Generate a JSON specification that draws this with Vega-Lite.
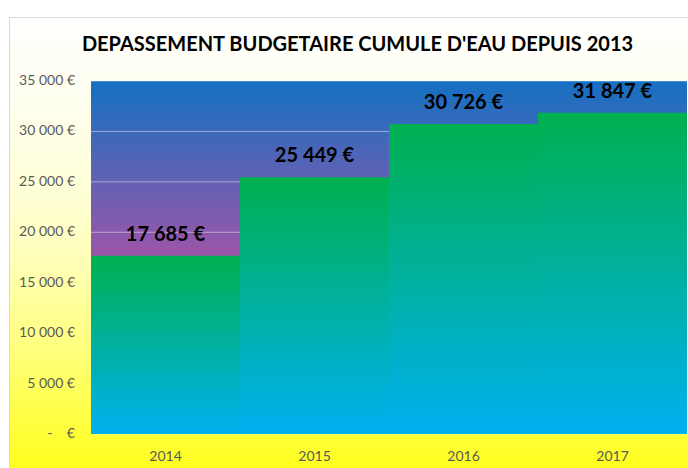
{
  "$schema": "https://vega.github.io/schema/vega-lite/v6.json",
  "width": 679,
  "height": 451,
  "autosize": {"type": "none"},
  "padding": {"left": 9, "top": 17, "right": 0, "bottom": 0},
  "background": "#FFFFFF",
  "title": {
    "text": "DEPASSEMENT BUDGETAIRE CUMULE D'EAU DEPUIS 2013",
    "font": "Lato",
    "fontSize": 20,
    "fontWeight": "bold",
    "color": "#000000",
    "anchor": "middle",
    "baseline": "alphabetic",
    "offset": -54,
    "dx": 9
  },
  "datasets": {
    "bars": [
      {"year": "2014", "value": 17685},
      {"year": "2015", "value": 25449},
      {"year": "2016", "value": 30726},
      {"year": "2017", "value": 31847}
    ],
    "ticks": [
      {"t": 0}, {"t": 5000}, {"t": 10000}, {"t": 15000}, {"t": 20000}, {"t": 25000}, {"t": 30000}, {"t": 35000}
    ]
  },
  "data": {"name": "bars"},
  "resolve": {"scale": {"x": "independent"}, "axis": {"x": "independent"}},
  "layer": [
    {
      "data": {"values": [{"area": "plot"}]},
      "mark": {
        "type": "rect",
        "fill": {
          "gradient": "linear", "x1": 0, "y1": 0, "x2": 0, "y2": 1,
          "stops": [
            {"offset": 0, "color": "#1470C2"},
            {"offset": 0.5, "color": "#9E55A8"},
            {"offset": 1, "color": "#B04AA0"}
          ]
        }
      },
      "encoding": {
        "x": {"datum": 0, "type": "quantitative", "scale": {"domain": [0, 1], "range": [82, 678], "nice": false, "zero": false}, "axis": null},
        "x2": {"datum": 1},
        "y": {"datum": 35000, "type": "quantitative", "scale": {"domain": [0, 35000], "range": [417, 64], "nice": false}, "axis": null},
        "y2": {"datum": 0}
      }
    },
    {
      "data": {"name": "ticks"},
      "mark": {"type": "rule", "color": "#FFFFFF", "opacity": 0.45, "strokeWidth": 1},
      "encoding": {
        "x": {"datum": 0, "type": "quantitative", "scale": {"domain": [0, 1], "range": [82, 678], "nice": false, "zero": false}, "axis": null},
        "x2": {"datum": 1},
        "y": {"field": "t", "type": "quantitative", "scale": {"domain": [0, 35000], "range": [417, 64], "nice": false}, "axis": null}
      }
    },
    {
      "data": {"name": "ticks"},
      "mark": {"type": "text", "font": "Lato", "fontSize": 14, "color": "#595959", "align": "right", "baseline": "middle", "dx": -16},
      "encoding": {
        "x": {"datum": 0, "type": "quantitative", "scale": {"domain": [0, 1], "range": [82, 678], "nice": false, "zero": false}, "axis": null},
        "y": {"field": "t", "type": "quantitative", "scale": {"domain": [0, 35000], "range": [417, 64], "nice": false}, "axis": null},
        "text": {
          "condition": {"test": "datum.t === 0", "value": "-\u00a0\u00a0\u00a0\u00a0€"},
          "field": "t", "type": "quantitative", "format": "$,.0f"
        }
      }
    },
    {
      "mark": {
        "type": "bar",
        "fill": {
          "gradient": "linear", "x1": 0, "y1": 0, "x2": 0, "y2": 1,
          "stops": [
            {"offset": 0, "color": "#00B050"},
            {"offset": 1, "color": "#00B0F0"}
          ]
        }
      },
      "encoding": {
        "x": {
          "field": "year", "type": "ordinal",
          "scale": {"range": [82, 678], "paddingInner": 0, "paddingOuter": 0},
          "axis": {
            "title": null, "orient": "bottom", "offset": -34, "domain": false, "ticks": false,
            "labelPadding": 15, "labelFont": "Lato", "labelFontSize": 14, "labelColor": "#595959", "labelAngle": 0
          }
        },
        "y": {
          "field": "value", "type": "quantitative",
          "scale": {"domain": [0, 35000], "range": [417, 64], "nice": false},
          "axis": null
        }
      }
    },
    {
      "mark": {"type": "text", "font": "Lato", "fontSize": 20, "fontWeight": "bold", "color": "#000000", "baseline": "alphabetic", "dy": -15},
      "encoding": {
        "x": {"field": "year", "type": "ordinal", "scale": {"range": [82, 678], "paddingInner": 0, "paddingOuter": 0}, "axis": null},
        "y": {"field": "value", "type": "quantitative", "scale": {"domain": [0, 35000], "range": [417, 64], "nice": false}, "axis": null},
        "text": {"field": "value", "type": "quantitative", "format": "$,.0f"}
      }
    }
  ],
  "config": {
    "locale": {"number": {"decimal": ",", "thousands": "\u00a0", "grouping": [3], "currency": ["", "\u00a0€"]}},
    "view": {
      "fill": {
        "gradient": "linear", "x1": 0, "y1": 0, "x2": 0, "y2": 1,
        "stops": [
          {"offset": 0, "color": "#FFFFFF"},
          {"offset": 0.2, "color": "#FFFFEE"},
          {"offset": 0.42, "color": "#FFFFD2"},
          {"offset": 0.56, "color": "#FFFFB2"},
          {"offset": 0.75, "color": "#FFFF78"},
          {"offset": 0.9, "color": "#FFFF40"},
          {"offset": 1, "color": "#FFFF1E"}
        ]
      },
      "stroke": "#D9D9D9",
      "strokeWidth": 1
    }
  }
}
